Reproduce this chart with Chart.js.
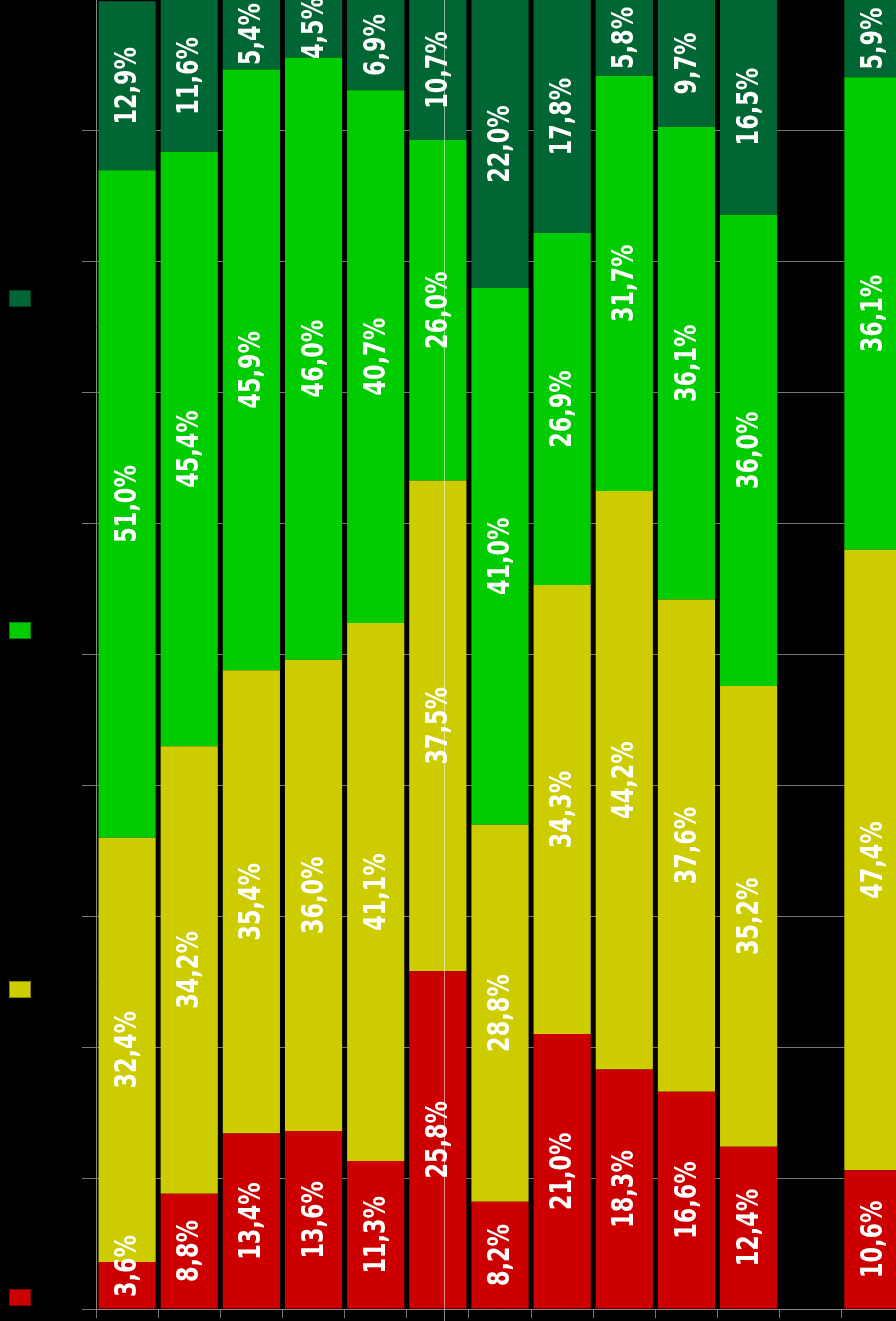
<!DOCTYPE html>
<html>
<head>
<meta charset="utf-8">
<script src="https://cdn.jsdelivr.net/npm/chart.js@4.4.1/dist/chart.umd.min.js"></script>
<style>
  html, body { margin: 0; padding: 0; background: #000; overflow: hidden; }
  #wrap { width: 904px; height: 1321px; }
</style>
</head>
<body>
<div id="wrap"><canvas id="chart" width="904" height="1321"></canvas></div>
<script>
// daten (von unten nach oben gestapelt)
const categories = ['1', '2', '3', '4', '5', '6', '7', '8', '9', '10', '11', '12', '13'];
const redValues = [3.6, 8.8, 13.4, 13.6, 11.3, 25.8, 8.2, 21.0, 18.3, 16.6, 12.4, null, 10.6];
const yellowValues = [32.4, 34.2, 35.4, 36.0, 41.1, 37.5, 28.8, 34.3, 44.2, 37.6, 35.2, null, 47.4];
const greenValues = [51.0, 45.4, 45.9, 46.0, 40.7, 26.0, 41.0, 26.9, 31.7, 36.1, 36.0, null, 36.1];
const darkGreenValues = [12.9, 11.6, 5.4, 4.5, 6.9, 10.7, 22.0, 17.8, 5.8, 9.7, 16.5, null, 5.9];
const seriesNames = ['Serie 1', 'Serie 2', 'Serie 3', 'Serie 4'];
const yTicks = { min: 0, max: 100, step: 10 };

const colors = ['#CC0000', '#CCCC00', '#00CC00', '#006633'];
const legendSpots = [1297, 989, 630, 298]; // y-mitte der legend-kaestchen
const markerAt = 5.1; // duenne senkrechte linie

function fmt(v) {
  return v.toFixed(1).replace('.', ',') + '%';
}

// prozent-labels in den balken (gedreht)
const labelPlugin = {
  id: 'segLabels',
  afterDatasetsDraw(chart) {
    const ctx = chart.ctx;
    const area = chart.chartArea;
    const x = chart.scales.x;

    // senkrechte linie
    const lx = Math.round(x.getPixelForValue(markerAt)) + 0.5;
    ctx.save();
    ctx.strokeStyle = 'rgba(255,255,255,0.55)';
    ctx.lineWidth = 1;
    ctx.beginPath();
    ctx.moveTo(lx, 0);
    ctx.lineTo(lx, chart.height);
    ctx.stroke();
    ctx.restore();

    ctx.save();
    ctx.font = 'bold 31px "DejaVu Sans"';
    ctx.fillStyle = '#ffffff';
    ctx.textAlign = 'center';
    ctx.textBaseline = 'middle';
    const sx = 0.72;
    chart.data.datasets.forEach((ds, di) => {
      const meta = chart.getDatasetMeta(di);
      meta.data.forEach((bar, i) => {
        const v = ds.data[i];
        if (v == null) return;
        const txt = fmt(v);
        const half = ctx.measureText(txt).width * sx / 2;
        let cy = (bar.y + bar.base) / 2;
        if (cy + half > area.bottom - 12) cy = area.bottom - 12 - half;
        ctx.save();
        ctx.translate(bar.x + 1, cy);
        ctx.rotate(-Math.PI / 2);
        ctx.scale(sx, 1);
        ctx.fillText(txt, 0, 0);
        ctx.restore();
      });
    });
    ctx.restore();
  },
  afterDraw(chart) {
    // legende links, nur kaestchen
    const ctx = chart.ctx;
    ctx.save();
    legendSpots.forEach((y, i) => {
      ctx.fillStyle = colors[i];
      ctx.fillRect(9, y - 8, 22, 17);
      ctx.strokeStyle = 'rgba(0,0,0,0.35)';
      ctx.lineWidth = 1;
      ctx.strokeRect(9.5, y - 7.5, 21, 16);
    });
    ctx.restore();
  }
};

const allValues = [redValues, yellowValues, greenValues, darkGreenValues];

new Chart(document.getElementById('chart').getContext('2d'), {
  type: 'bar',
  data: {
    labels: categories,
    datasets: allValues.map((vals, i) => ({
      label: seriesNames[i],
      data: vals,
      backgroundColor: colors[i],
      borderWidth: 0,
      categoryPercentage: 1.0,
      barPercentage: 0.92
    }))
  },
  options: {
    responsive: false,
    animation: false,
    layout: { padding: 0 },
    plugins: {
      legend: { display: false },
      tooltip: { enabled: false }
    },
    scales: {
      x: {
        stacked: true,
        ticks: { display: false },
        grid: { color: '#777', drawOnChartArea: false, drawTicks: true, tickLength: 9, offset: true },
        border: { color: '#888' },
        afterFit(s) { s.height = 12; }
      },
      y: {
        stacked: true,
        min: yTicks.min,
        max: yTicks.max,
        ticks: { display: false, stepSize: yTicks.step },
        grid: {
          color: (c) => (c.tick && c.tick.value === yTicks.max ? 'rgba(0,0,0,0)' : '#777'),
          tickLength: 14
        },
        border: { color: '#888' },
        afterFit(s) { s.width = 96; }
      }
    }
  },
  plugins: [labelPlugin]
});
</script>
</body>
</html>
